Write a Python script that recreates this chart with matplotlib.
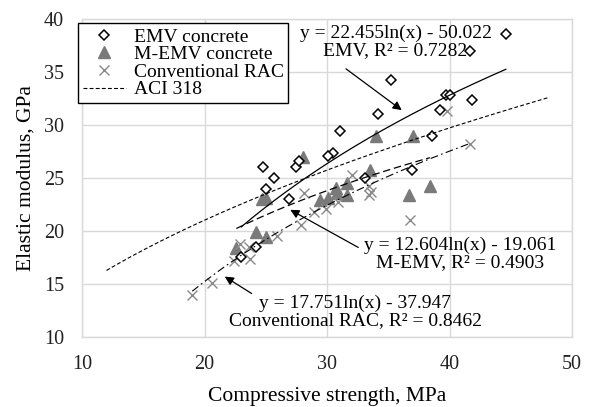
import numpy as np
import matplotlib
matplotlib.use("Agg")
import matplotlib.pyplot as plt

plt.rcParams['font.family'] = ['Liberation Serif', 'DejaVu Serif']

# ---- data ----
emv_x = [44.6, 41.7, 35.2, 34.2, 39.7, 40.0, 39.2, 41.8, 38.6, 36.9, 31.1, 30.5,
         30.1, 27.5, 27.7, 26.9, 24.8, 25.7, 25.0, 33.1, 24.2, 23.0]
emv_y = [38.6, 37.0, 34.2, 31.0, 32.8, 32.8, 31.4, 32.4, 29.0, 25.8, 29.4, 27.4,
         27.1, 26.0, 26.6, 23.0, 26.0, 25.0, 24.0, 25.0, 18.5, 17.5]

memv_x = [34.0, 37.0, 28.0, 24.7, 25.0, 33.5, 31.6, 30.7, 30.8, 31.6, 30.1, 29.4,
          36.7, 38.4, 24.2, 25.0, 22.6]
memv_y = [29.0, 29.0, 27.0, 23.0, 23.1, 25.8, 24.5, 24.1, 23.6, 23.4, 23.1, 22.9,
          23.4, 24.2, 19.9, 19.4, 18.4]

rac_x = [39.8, 41.7, 36.8, 32.0, 33.4, 33.6, 33.4, 28.1, 30.9, 29.9, 28.9, 27.9,
         25.9, 22.9, 23.6, 23.7, 22.4, 20.6, 19.0]
rac_y = [31.3, 28.2, 21.0, 25.3, 24.2, 23.7, 23.4, 23.6, 22.7, 22.1, 21.8, 20.6,
         19.5, 18.8, 18.5, 17.4, 17.2, 15.1, 14.0]

# trendline coefficients (y = a ln(x) + b) as printed on the chart
emv_fit = (22.455, -50.022)
memv_fit = (12.604, -19.061)
rac_fit = (17.751, -37.947)
aci_coef = 4.7
aci_range = (12, 48)

labels = ["EMV concrete", "M-EMV concrete", "Conventional RAC", "ACI 318"]
xticks = [10, 20, 30, 40, 50]
yticks = [10, 15, 20, 25, 30, 35, 40]

fig = plt.figure(figsize=(5.9, 4.07), dpi=100)
ax = fig.add_axes([0.139, 0.172, 0.8305, 0.7813])

grid_c = '#d9d9d9'
ax.set_xlim(10, 50)
ax.set_ylim(10, 40)
ax.set_xticks(xticks)
ax.set_yticks(yticks)
ax.grid(True, color=grid_c, lw=1.0)
ax.set_axisbelow(True)
for s in ax.spines.values():
    s.set_color(grid_c)
    s.set_linewidth(1.0)
ax.tick_params(length=0, labelsize=14.5, colors='#222222')
ax.tick_params(axis='y', pad=13)
ax.tick_params(axis='x', pad=13)

# scatter
h1, = ax.plot(emv_x, emv_y, 'D', ms=5.0, mfc='white', mec='black', mew=1.1,
              ls='none', zorder=4)
h2, = ax.plot(memv_x, memv_y, '^', ms=8.5, color='#7a7a7a', mec='#7a7a7a',
              ls='none', zorder=3)
h3, = ax.plot(rac_x, rac_y, 'x', ms=6.5, color='#8a8a8a', mew=1.0,
              ls='none', zorder=3)

# trendlines
def trend(xs, coef):
    xx = np.linspace(min(xs), max(xs), 200)
    return xx, coef[0] * np.log(xx) + coef[1]

xx, yy = trend(emv_x, emv_fit)
ax.plot(xx, yy, color='black', lw=0.9, zorder=5)
xx, yy = trend(memv_x, memv_fit)
ax.plot(xx, yy, color='black', lw=0.9, ls=(0, (6, 3)), zorder=5)
xx, yy = trend(rac_x, rac_fit)
ax.plot(xx, yy, color='black', lw=0.8, ls=(0, (7, 3, 1.5, 3)), zorder=5)
xa = np.linspace(aci_range[0], aci_range[1], 200)
h4, = ax.plot(xa, aci_coef * np.sqrt(xa), color='black', lw=0.8,
              ls=(0, (3.5, 2)), zorder=5)

leg = ax.legend([h1, h2, h3, h4], labels, loc='upper left',
                bbox_to_anchor=(-0.008, 0.987), borderaxespad=0,
                fontsize=14, frameon=True, fancybox=False,
                edgecolor='black', framealpha=1, labelspacing=0.0,
                handlelength=2.2, handletextpad=0.4, borderpad=0.25,
                numpoints=1)
leg.get_frame().set_linewidth(1.0)

# annotations
ax.text(35.6, 37.8, "y = 22.455ln(x) - 50.022\nEMV, R² = 0.7282",
        ha='center', va='center', fontsize=14, linespacing=1.0, zorder=6)
ax.annotate('', xy=(36.1, 31.4), xytext=(31.55, 35.3),
            arrowprops=dict(arrowstyle='-|>', color='black', lw=0.9,
                            mutation_scale=13, shrinkA=0, shrinkB=0))

ax.text(40.85, 17.85, "y = 12.604ln(x) - 19.061\nM-EMV, R² = 0.4903",
        ha='center', va='center', fontsize=14, linespacing=1.0, zorder=6)
ax.annotate('', xy=(27.0, 22.0), xytext=(32.55, 18.45),
            arrowprops=dict(arrowstyle='-|>', color='black', lw=0.9,
                            mutation_scale=13, shrinkA=0, shrinkB=0))

ax.text(32.3, 12.4, "y = 17.751ln(x) - 37.947\nConventional RAC, R² = 0.8462",
        ha='center', va='center', fontsize=14, linespacing=1.0, zorder=6)
ax.annotate('', xy=(21.65, 15.7), xytext=(23.85, 14.1),
            arrowprops=dict(arrowstyle='-|>', color='black', lw=0.9,
                            mutation_scale=13, shrinkA=0, shrinkB=0))

ax.set_xlabel("Compressive strength, MPa", fontsize=15.5, labelpad=9)
ax.set_ylabel("Elastic modulus, GPa", fontsize=15.5, labelpad=6)

fig.savefig("out.png", dpi=100)
